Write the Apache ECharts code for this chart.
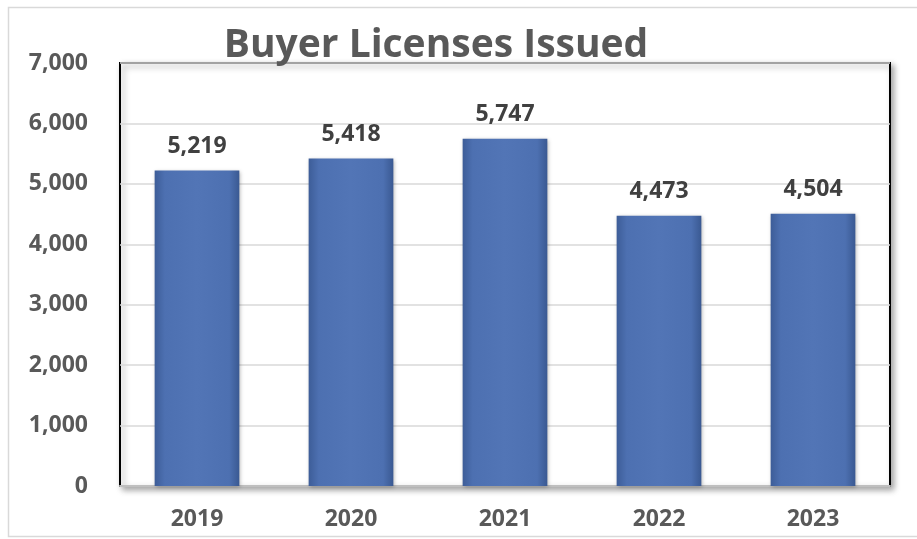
<!DOCTYPE html>
<html>
<head>
<meta charset="utf-8">
<script src="https://cdn.jsdelivr.net/npm/echarts@6/dist/echarts.min.js"></script>
<style>
  html, body { margin: 0; padding: 0; background: #fff; }
  #chart { width: 917px; height: 539px; }
</style>
</head>
<body>
<div id="chart"></div>
<script>
// 数据
var years = ['2019', '2020', '2021', '2022', '2023'];
var licenses = [5219, 5418, 5747, 4473, 4504];
var yTicks = { min: 0, max: 7000, interval: 1000 };

var font = '"Open Sans", "Liberation Sans", sans-serif';

var myChart = echarts.init(document.getElementById('chart'));

var option = {
  backgroundColor: '#fff',
  animation: false,
  title: {
    text: 'Buyer Licenses Issued',
    left: 431,
    textAlign: 'center',
    top: 21,
    textStyle: {
      fontFamily: font,
      fontWeight: 'bold',
      fontSize: 39,
      color: '#595959'
    }
  },
  graphic: [{
    type: 'rect',
    shape: { x: 8.5, y: 7.5, width: 920, height: 529 },
    style: { fill: 'none', stroke: '#d9d9d9', lineWidth: 1.5 },
    silent: true
  }],
  grid: {
    left: 120,
    right: 27,
    top: 63,
    bottom: 53,
    show: true,
    backgroundColor: '#fff',
    borderColor: '#000',
    borderWidth: 2,
    shadowColor: 'rgba(0,0,0,0.35)',
    shadowBlur: 6,
    shadowOffsetX: 3,
    shadowOffsetY: 3
  },
  xAxis: {
    type: 'category',
    data: years,
    axisTick: { show: false },
    axisLine: { lineStyle: { color: '#bfbfbf', width: 2 } },
    axisLabel: {
      margin: 22,
      fontFamily: font,
      fontWeight: 'bold',
      fontSize: 23,
      color: '#595959'
    }
  },
  yAxis: {
    type: 'value',
    min: yTicks.min,
    max: yTicks.max,
    interval: yTicks.interval,
    axisLine: { show: false },
    axisTick: { show: false },
    splitLine: { lineStyle: { color: '#d9d9d9', width: 1.5 } },
    axisLabel: {
      margin: 32,
      fontFamily: font,
      fontWeight: 'bold',
      fontSize: 23,
      color: '#595959',
      formatter: function (v) { return v.toLocaleString('en-US'); }
    }
  },
  series: [{
    name: 'Buyer Licenses',
    type: 'bar',
    data: licenses,
    barWidth: '55%',
    itemStyle: {
      color: {
        type: 'linear', x: 0, y: 0, x2: 1, y2: 0,
        colorStops: [
          { offset: 0, color: '#3d5d98' },
          { offset: 0.12, color: '#4d70b1' },
          { offset: 0.5, color: '#5275b6' },
          { offset: 0.88, color: '#4d70b1' },
          { offset: 1, color: '#3a5992' }
        ]
      },
      shadowColor: 'rgba(0,0,0,0.3)',
      shadowBlur: 4,
      shadowOffsetX: 1,
      shadowOffsetY: 1
    },
    label: {
      show: true,
      position: 'top',
      distance: 13,
      fontFamily: font,
      fontWeight: 'bold',
      fontSize: 23,
      color: '#404040',
      formatter: function (p) { return p.value.toLocaleString('en-US'); }
    }
  }]
};

myChart.setOption(option);
</script>
</body>
</html>
